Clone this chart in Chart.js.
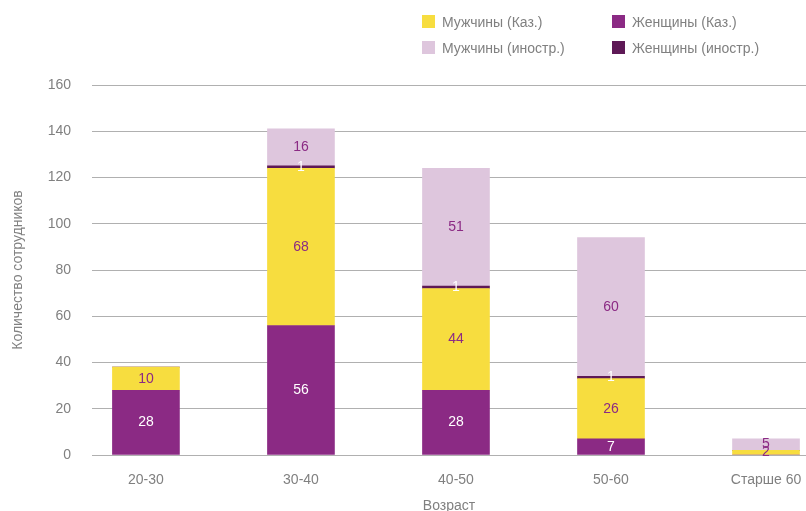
<!DOCTYPE html>
<html>
<head>
<meta charset="utf-8">
<script src="https://cdn.jsdelivr.net/npm/chart.js@4"></script>
<style>
    body { margin: 0; background: #fff; }
    #wrap { position: relative; width: 806px; height: 511px; overflow: hidden; }
    .legend { position: absolute; font: 14px "Liberation Sans", Arial, sans-serif; color: #808080; }
    .legend span.box { display: inline-block; width: 13px; height: 13px; vertical-align: -1px; margin-right: 7px; }
</style>
</head>
<body>
<div id="wrap">
    <canvas id="ageChart" width="806" height="511"></canvas>
    <div class="legend" style="left:422px; top:14px;"><span class="box" style="background:#F7DD3F"></span>Мужчины (Каз.)</div>
    <div class="legend" style="left:612px; top:14px;"><span class="box" style="background:#8B2A84"></span>Женщины (Каз.)</div>
    <div class="legend" style="left:422px; top:40px;"><span class="box" style="background:#DEC6DD"></span>Мужчины (иностр.)</div>
    <div class="legend" style="left:612px; top:40px;"><span class="box" style="background:#5E1956"></span>Женщины (иностр.)</div>
</div>
<script>
// Data
const ageGroups = ["20-30", "30-40", "40-50", "50-60", "Старше 60"];
const womenKaz = [28, 56, 28, 7, 0];
const menKaz = [10, 68, 44, 26, 2];
const womenForeign = [0, 1, 1, 1, 0];
const menForeign = [0, 16, 51, 60, 5];
const yTicks = [0, 20, 40, 60, 80, 100, 120, 140, 160];

const textGray = "#808080";
const fontFamily = "'Liberation Sans', Arial, sans-serif";

function toPoints(values) {
    return values.map((v, i) => ({ x: i, y: v }));
}

// Value labels inside the bar segments
const valueLabels = {
    id: "valueLabels",
    afterDatasetsDraw(chart) {
        const ctx = chart.ctx;
        ctx.save();
        ctx.font = "14px " + fontFamily;
        ctx.textAlign = "center";
        ctx.textBaseline = "middle";
        chart.data.datasets.forEach((ds, di) => {
            const meta = chart.getDatasetMeta(di);
            meta.data.forEach((bar, i) => {
                const v = ds.data[i].y;
                if (!v) return;
                const mid = (bar.y + bar.base) / 2;
                ctx.fillStyle = ds.labelColor;
                ctx.fillText(String(v), bar.x, mid);
            });
        });
        ctx.restore();
    },
};

const ctx = document.getElementById("ageChart").getContext("2d");

const ageChart = new Chart(ctx, {
    type: "bar",
    data: {
        datasets: [
            { label: "Женщины (Каз.)", data: toPoints(womenKaz), backgroundColor: "#8B2A84", labelColor: "#ffffff" },
            { label: "Мужчины (Каз.)", data: toPoints(menKaz), backgroundColor: "#F7DD3F", labelColor: "#8B2A84" },
            { label: "Женщины (иностр.)", data: toPoints(womenForeign), backgroundColor: "#5E1956", labelColor: "#ffffff" },
            { label: "Мужчины (иностр.)", data: toPoints(menForeign), backgroundColor: "#DEC6DD", labelColor: "#8B2A84" },
        ],
    },
    options: {
        responsive: false,
        animation: false,
        barThickness: 67,
        layout: { padding: { top: 85, left: 0, right: 0, bottom: 0 } },
        scales: {
            x: {
                type: "linear",
                stacked: true,
                offset: false,
                min: -0.348,
                max: 4.258,
                afterFit: (scale) => {
                    scale.height = 56;
                    scale.paddingLeft = 0;
                    scale.paddingRight = 0;
                },
                afterBuildTicks: (scale) => {
                    scale.ticks = ageGroups.map((_, i) => ({ value: i }));
                },
                grid: { display: false, drawTicks: false, offset: false },
                border: { display: false },
                ticks: {
                    autoSkip: false,
                    maxRotation: 0,
                    padding: 17,
                    color: textGray,
                    font: { size: 14, family: fontFamily },
                    callback: (v) => ageGroups[v],
                },
                title: {
                    display: true,
                    text: "Возраст",
                    color: textGray,
                    font: { size: 14, family: fontFamily },
                    padding: { top: 0, bottom: -4 },
                },
            },
            y: {
                stacked: true,
                min: 0,
                max: 160,
                afterFit: (scale) => {
                    scale.width = 92;
                    scale.paddingTop = 0;
                    scale.paddingBottom = 0;
                },
                afterBuildTicks: (scale) => {
                    scale.ticks = yTicks.map((v) => ({ value: v }));
                },
                grid: { color: "#b0b0b0", lineWidth: 1, drawTicks: false },
                border: { display: false },
                ticks: {
                    padding: 21,
                    color: textGray,
                    font: { size: 14, family: fontFamily },
                },
                title: {
                    display: true,
                    text: "Количество сотрудников",
                    color: textGray,
                    font: { size: 14, family: fontFamily },
                    padding: { top: 10, bottom: 0 },
                },
            },
        },
        plugins: {
            legend: { display: false },
            tooltip: { enabled: false },
        },
    },
    plugins: [valueLabels],
});
</script>
</body>
</html>
